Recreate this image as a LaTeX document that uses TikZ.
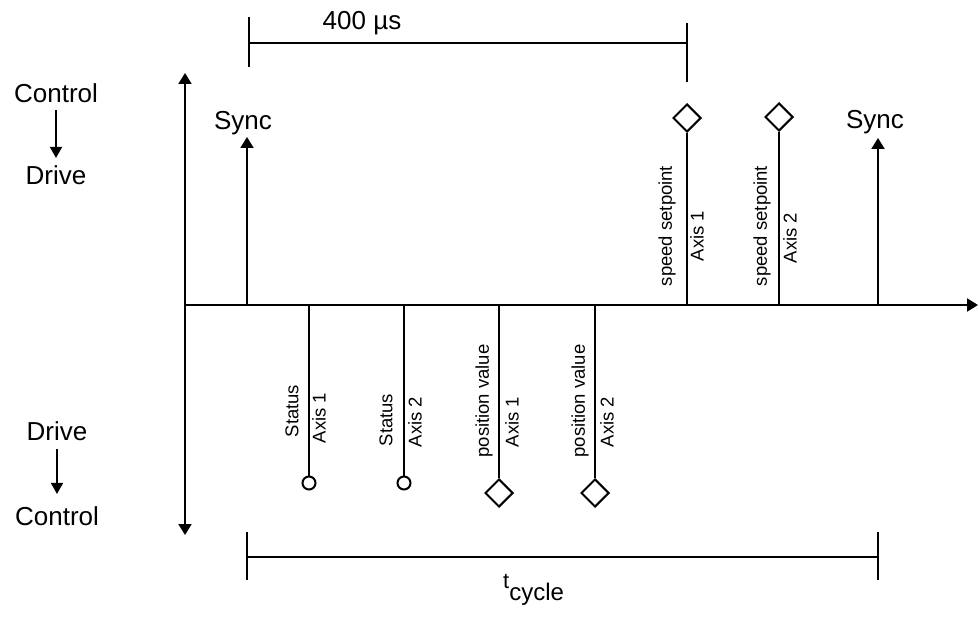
\documentclass[tikz,border=0pt]{standalone}
\usepackage{fontspec}
\setmainfont{Liberation Sans}
\usetikzlibrary{arrows.meta,shapes.geometric}
\begin{document}
\begin{tikzpicture}[x=1pt,y=-1pt,
  ax/.style={line width=2pt},
  bigtip/.style={-{Triangle[length=11pt,width=13pt]}},
  smalltip/.style={line width=1.5pt,-{Triangle[length=11pt,width=12pt]}},
  lbl/.style={font=\fontsize{26}{30}\selectfont, inner sep=0pt},
  vlbl/.style={font=\fontsize{18.5}{22}\selectfont, rotate=90, inner sep=0pt},
  dia/.style={diamond, draw, line width=2pt, inner sep=0pt, minimum width=28pt, minimum height=28pt, fill=white},
  circ/.style={circle, draw, line width=2pt, inner sep=0pt, minimum size=13pt, fill=white},
  brk/.style={line width=1.6pt}]
\useasboundingbox (0,0) rectangle (979,617);
% axes
\coordinate (O) at (185,305);
\coordinate (ytop) at (185,73);
\coordinate (ybot) at (185,535);
\coordinate (xend) at (978,305);
\draw[ax,bigtip] (O) -- (ytop);
\draw[ax,bigtip] (O) -- (ybot);
\draw[ax,bigtip] (O) -- (xend);
% left labels
\node[lbl,anchor=base] (ctl1) at (56,103) {Control};
\node[lbl,anchor=base] (drv1) at (56,185) {Drive};
\draw[smalltip,shorten <=7pt,shorten >=8pt] (ctl1.south) -- (ctl1.south |- drv1.north);
\node[lbl,anchor=base] (drv2) at (57,440) {Drive};
\node[lbl,anchor=base] (ctl2) at (57,525) {Control};
\draw[smalltip,shorten <=9pt,shorten >=12pt] (drv2.south) -- (drv2.south |- ctl2.north);
% sync arrows
\coordinate (s1) at (247,305);
\coordinate (s1t) at (247,137);
\draw[ax,bigtip] (s1) -- (s1t);
\node[lbl,anchor=base] (sync1) at (243,130) {Sync};
\coordinate (s2) at (878,305);
\coordinate (s2t) at (878,138);
\draw[ax,bigtip] (s2) -- (s2t);
\node[lbl,anchor=base] (sync2) at (875,129) {Sync};
% speed setpoints
\coordinate (a1) at (687,305);
\node[dia] (d1) at (687,118) {};
\draw[ax] (a1) -- (d1.south);
\node[vlbl] (sp1) at (667,226) {speed setpoint};
\node[vlbl] (ax1) at (697,236) {Axis 1};
\coordinate (a2) at (779,305);
\node[dia] (d2) at (779,117) {};
\draw[ax] (a2) -- (d2.south);
\node[vlbl] (sp2) at (762,226) {speed setpoint};
\node[vlbl] (ax2) at (790,238) {Axis 2};
% status
\coordinate (b1) at (309,305);
\node[circ] (c1) at (309,483) {};
\draw[ax] (b1) -- (c1.north);
\node[vlbl] (st1) at (292,411) {Status};
\node[vlbl] (stax1) at (319,418) {Axis 1};
\coordinate (b2) at (404,305);
\node[circ] (c2) at (404,483) {};
\draw[ax] (b2) -- (c2.north);
\node[vlbl] (st2) at (386,420) {Status};
\node[vlbl] (stax2) at (415,422) {Axis 2};
% position values
\coordinate (b3) at (499,305);
\node[dia] (d3) at (499,493) {};
\draw[ax] (b3) -- (d3.north);
\node[vlbl] (pv1) at (484,401) {position value};
\node[vlbl] (pvax1) at (512,422) {Axis 1};
\coordinate (b4) at (595,305);
\node[dia] (d4) at (595,493) {};
\draw[ax] (b4) -- (d4.north);
\node[vlbl] (pv2) at (580,401) {position value};
\node[vlbl] (pvax2) at (607,422) {Axis 2};
% 400 us bracket
\coordinate (t1a) at (249,17);
\coordinate (t1b) at (249,67);
\coordinate (t1l) at (249,43);
\coordinate (t1r) at (687,43);
\coordinate (t1c) at (687,23);
\coordinate (t1d) at (687,82);
\draw[brk] (t1a) -- (t1b);
\draw[brk] (t1l) -- (t1r);
\draw[brk] (t1c) -- (t1d);
\node[lbl,anchor=base] (us) at (362,30) {400 µs};
% t_cycle bracket
\coordinate (c1a) at (247,532);
\coordinate (c1b) at (247,580);
\coordinate (c1l) at (247,557);
\coordinate (c1r) at (878,557);
\coordinate (c1c) at (878,532);
\coordinate (c1d) at (878,580);
\draw[brk] (c1a) -- (c1b);
\draw[brk] (c1l) -- (c1r);
\draw[brk] (c1c) -- (c1d);
\node[lbl,anchor=base west] (tc) at (503,588) {\fontsize{22}{26}\selectfont t\raisebox{-12pt}{\fontsize{24}{28}\selectfont cycle}};
\end{tikzpicture}
\end{document}
